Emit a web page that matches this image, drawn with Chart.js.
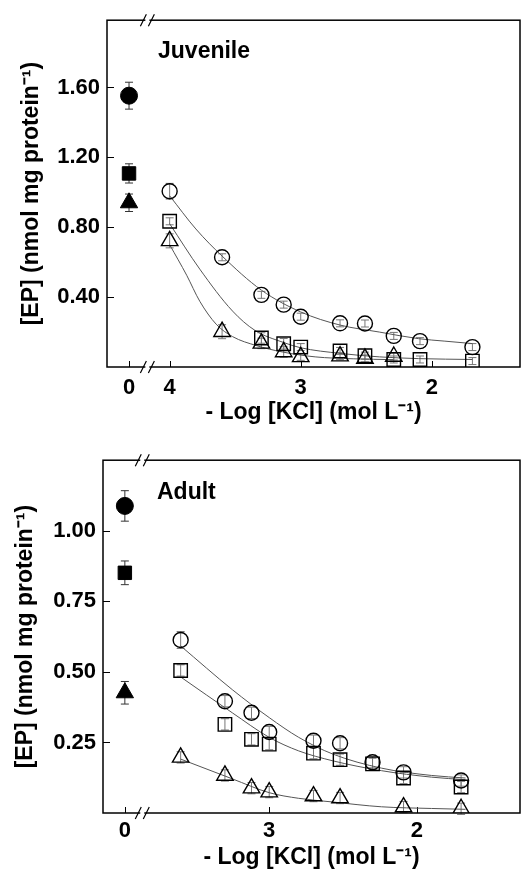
<!DOCTYPE html>
<html>
<head>
    <meta charset="utf-8" />
    <title>EP vs KCl</title>
    <style>
        body { margin: 0; background: #fff; }
        #topBox { position: absolute; left: 0; top: 0; width: 531px; height: 440px; }
        #bottomBox { position: absolute; left: 0; top: 440px; width: 531px; height: 434px; }
    </style>
</head>
<body>
    <div id="topBox"><canvas id="juvChart"></canvas></div>
    <div id="bottomBox"><canvas id="adultChart"></canvas></div>

    <script src="https://cdn.jsdelivr.net/npm/chart.js"></script>
    <script>
        // ---- Juvenile panel data ----
        const juvX = [4.0, 3.6, 3.3, 3.13, 3.0, 2.7, 2.51, 2.29, 2.09, 1.69];
        const juvCircle = [1.006, 0.628, 0.413, 0.357, 0.288, 0.250, 0.249, 0.178, 0.148, 0.114];
        const juvSquare = [0.834, null, 0.166, 0.133, 0.114, 0.092, 0.065, 0.043, 0.043, 0.034];
        const juvTriangle = [0.722, 0.202, 0.135, 0.086, 0.058, 0.062, 0.049, 0.060, null, null];
        const juvCircleErr = [0.045, 0.02, 0.02, 0.02, 0.02, 0.02, 0.02, 0.02, 0.02, 0.02];
        const juvSquareErr = [0.02, 0, 0.03, 0.03, 0.02, 0.02, 0.02, 0.02, 0.02, 0.02];
        const juvTriangleErr = [0.04, 0.04, 0.03, 0.03, 0.02, 0.02, 0.02, 0.02, 0, 0];
        // controls (KCl = 0)
        const juvControl = [1.553, 1.108, 0.94];
        const juvControlErr = [0.077, 0.055, 0.05];
        // fitted curves
        const juvCircleFitX = [4.0, 3.8, 3.6, 3.3, 3.0, 2.7, 2.4, 2.1, 1.9, 1.69];
        const juvCircleFit = [0.98, 0.79, 0.635, 0.44, 0.315, 0.24, 0.20, 0.162, 0.148, 0.134];
        const juvSquareFitX = [4.0, 3.77, 3.52, 3.35, 3.13, 3.0, 2.7, 2.4, 2.1, 1.69];
        const juvSquareFit = [0.82, 0.56, 0.32, 0.21, 0.14, 0.11, 0.078, 0.058, 0.048, 0.043];
        const juvTriangleFitX = [4.0, 3.87, 3.77, 3.645, 3.52, 3.34, 3.14, 2.89, 2.6, 2.29];
        const juvTriangleFit = [0.70, 0.525, 0.376, 0.245, 0.174, 0.123, 0.086, 0.058, 0.047, 0.042];
        const juvYTicks = [0.4, 0.8, 1.2, 1.6];
        const juvXTickPos = [4.31, 4, 3, 2];
        const juvXTickLabels = ['0', '4', '3', '2'];

        // ---- Adult panel data ----
        const adultX = [3.6, 3.3, 3.12, 3.0, 2.7, 2.52, 2.3, 2.09, 1.7];
        const adultCircle = [0.613, 0.396, 0.355, 0.287, 0.256, 0.247, 0.18, 0.144, 0.115];
        const adultSquare = [0.505, 0.314, 0.261, 0.244, 0.212, 0.189, 0.174, 0.124, 0.092];
        const adultTriangle = [0.197, 0.133, 0.088, 0.074, 0.060, 0.053, null, 0.021, 0.015];
        const adultCircleErr = [0.03, 0.02, 0.02, 0.02, 0.02, 0.02, 0.02, 0.02, 0.02];
        const adultSquareErr = [0.02, 0.02, 0.02, 0.02, 0.02, 0.02, 0.02, 0.02, 0.02];
        const adultTriangleErr = [0.02, 0.02, 0.02, 0.02, 0.02, 0.02, 0, 0.02, 0.02];
        const adultControl = [1.088, 0.851, 0.426];
        const adultControlErr = [0.054, 0.042, 0.04];
        const adultFitX = [3.6, 3.25, 3.0, 2.8, 2.57, 2.24, 1.9, 1.67];
        const adultCircleFit = [0.592, 0.437, 0.338, 0.268, 0.209, 0.159, 0.133, 0.124];
        const adultSquareFit = [0.482, 0.355, 0.268, 0.22, 0.185, 0.150, 0.127, 0.118];
        const adultTriangleFit = [0.191, 0.121, 0.072, 0.052, 0.039, 0.022, 0.016, 0.013];
        const adultYTicks = [0.25, 0.5, 0.75, 1.0];
        const adultXTickPos = [3.978, 3, 2];
        const adultXTickLabels = ['0', '3', '2'];

        const FONT = "'Liberation Sans', Arial, Helvetica, sans-serif";

        function pts(xs, ys) {
            return xs.map((x, i) => ({ x: x, y: ys[i] }));
        }

        function markerSet(xs, ys, errs, style, filled, radius) {
            return {
                data: pts(xs, ys),
                errors: errs,
                errorColor: filled ? '#333' : '#777',
                pointStyle: style,
                pointRadius: radius,
                pointHoverRadius: radius,
                borderColor: '#000',
                borderWidth: filled ? 1 : 1.4,
                backgroundColor: filled ? '#000' : 'rgba(0,0,0,0)',
                showLine: false
            };
        }

        function curveSet(xs, ys) {
            return {
                data: pts(xs, ys),
                showLine: true,
                pointRadius: 0,
                borderColor: '#555',
                borderWidth: 1,
                cubicInterpolationMode: 'monotone',
                fill: false
            };
        }

        // frame, inward ticks, axis breaks, error bars and panel label
        const decor = {
            id: 'decor',
            beforeDatasetsDraw(chart, args, o) {
                const ctx = chart.ctx, a = chart.chartArea;
                const xs = chart.scales.x, ys = chart.scales.y;
                ctx.save();
                chart.data.datasets.forEach(ds => {
                    if (!ds.errors) return;
                    ds.data.forEach((p, j) => {
                        const e = ds.errors[j];
                        if (p.y == null || !e) return;
                        const px = xs.getPixelForValue(p.x);
                        const y1 = ys.getPixelForValue(p.y + e);
                        const y2 = ys.getPixelForValue(p.y - e);
                        ctx.strokeStyle = ds.errorColor;
                        ctx.lineWidth = 1;
                        ctx.beginPath();
                        ctx.moveTo(px, y1); ctx.lineTo(px, y2);
                        ctx.moveTo(px - 4, y1); ctx.lineTo(px + 4, y1);
                        ctx.moveTo(px - 4, y2); ctx.lineTo(px + 4, y2);
                        ctx.stroke();
                    });
                });

                ctx.strokeStyle = '#000';
                ctx.lineWidth = 1.5;
                ctx.strokeRect(a.left, a.top, a.right - a.left, a.bottom - a.top);

                ctx.lineWidth = 1;
                ctx.beginPath();
                xs.ticks.forEach(t => {
                    const px = Math.round(xs.getPixelForValue(t.value)) + 0.5;
                    ctx.moveTo(px, a.bottom); ctx.lineTo(px, a.bottom - 6);
                });
                ys.ticks.forEach(t => {
                    const py = Math.round(ys.getPixelForValue(t.value)) + 0.5;
                    ctx.moveTo(a.left, py); ctx.lineTo(a.left + 7, py);
                });
                ctx.stroke();

                const bx = xs.getPixelForValue(o.breakAt);
                [a.top, a.bottom].forEach(y => {
                    ctx.fillStyle = '#fff';
                    ctx.fillRect(bx - 2, y - 2, 4, 4);
                    ctx.beginPath();
                    ctx.moveTo(bx - 7, y + 6); ctx.lineTo(bx - 1, y - 6);
                    ctx.moveTo(bx + 1, y + 6); ctx.lineTo(bx + 7, y - 6);
                    ctx.lineWidth = 1.2;
                    ctx.strokeStyle = '#000';
                    ctx.stroke();
                });

                ctx.fillStyle = '#000';
                ctx.font = 'bold 23px ' + FONT;
                ctx.textBaseline = 'middle';
                ctx.textAlign = 'left';
                ctx.fillText(o.label, o.labelX, o.labelY);
                ctx.restore();
            }
        };

        function makeChart(id, p) {
            const ctx = document.getElementById(id).getContext('2d');
            return new Chart(ctx, {
                type: 'scatter',
                data: {
                    datasets: [
                        markerSet([p.controlPos], [p.control[0]], [p.controlErr[0]], 'circle', true, 8.5),
                        markerSet([p.controlPos], [p.control[1]], [p.controlErr[1]], 'rect', true, 9.5),
                        markerSet([p.controlPos], [p.control[2]], [p.controlErr[2]], 'triangle', true, 10),
                        markerSet(p.x, p.circle, p.circleErr, 'circle', false, 7.5),
                        markerSet(p.x, p.square, p.squareErr, 'rect', false, 9.5),
                        markerSet(p.x, p.triangle, p.triangleErr, 'triangle', false, 9.5),
                        curveSet(p.circleFitX, p.circleFit),
                        curveSet(p.squareFitX, p.squareFit),
                        curveSet(p.triangleFitX, p.triangleFit)
                    ]
                },
                options: {
                    responsive: true,
                    maintainAspectRatio: false,
                    animation: false,
                    events: [],
                    layout: { padding: { top: p.padTop, right: 9, left: 0, bottom: 0 } },
                    plugins: {
                        legend: { display: false },
                        tooltip: { enabled: false },
                        decor: { breakAt: p.breakAt, label: p.label, labelX: p.labelX, labelY: p.labelY }
                    },
                    scales: {
                        x: {
                            type: 'linear',
                            reverse: true,
                            min: p.xMin,
                            max: p.xMax,
                            afterFit: s => { s.height = p.xAxisHeight; },
                            afterBuildTicks: s => { s.ticks = p.xTickPos.map(v => ({ value: v })); },
                            grid: { display: false, drawTicks: false },
                            border: { display: false },
                            ticks: {
                                padding: p.xTickPad,
                                color: '#000',
                                font: { family: FONT, size: 22, weight: 'bold' },
                                callback: v => p.xTickLabels[p.xTickPos.indexOf(v)]
                            },
                            title: {
                                display: true,
                                text: '- Log [KCl] (mol L⁻¹)',
                                color: '#000',
                                font: { family: FONT, size: 23, weight: 'bold' },
                                padding: { top: 0, bottom: p.xTitlePad }
                            }
                        },
                        y: {
                            min: 0,
                            max: p.yMax,
                            afterFit: s => { s.width = p.yAxisWidth; },
                            afterBuildTicks: s => { s.ticks = p.yTicks.map(v => ({ value: v })); },
                            grid: { display: false, drawTicks: false },
                            border: { display: false },
                            ticks: {
                                padding: 7,
                                color: '#000',
                                font: { family: FONT, size: 22, weight: 'bold' },
                                callback: v => v.toFixed(2)
                            },
                            title: {
                                display: true,
                                text: '[EP] (nmol mg protein⁻¹)',
                                color: '#000',
                                font: { family: FONT, size: 23, weight: 'bold' },
                                padding: { top: p.yTitlePad, bottom: 0 }
                            }
                        }
                    }
                },
                plugins: [decor]
            });
        }

        makeChart('juvChart', {
            x: juvX, circle: juvCircle, square: juvSquare, triangle: juvTriangle,
            circleErr: juvCircleErr, squareErr: juvSquareErr, triangleErr: juvTriangleErr,
            control: juvControl, controlErr: juvControlErr, controlPos: 4.31,
            circleFitX: juvCircleFitX, circleFit: juvCircleFit,
            squareFitX: juvSquareFitX, squareFit: juvSquareFit,
            triangleFitX: juvTriangleFitX, triangleFit: juvTriangleFit,
            yTicks: juvYTicks, xTickPos: juvXTickPos, xTickLabels: juvXTickLabels,
            xMin: 1.327, xMax: 4.478, yMax: 1.985, breakAt: 4.17,
            padTop: 13, xAxisHeight: 73, yAxisWidth: 107,
            xTickPad: 8, xTitlePad: 14, yTitlePad: 18,
            label: 'Juvenile', labelX: 158, labelY: 52
        });

        makeChart('adultChart', {
            x: adultX, circle: adultCircle, square: adultSquare, triangle: adultTriangle,
            circleErr: adultCircleErr, squareErr: adultSquareErr, triangleErr: adultTriangleErr,
            control: adultControl, controlErr: adultControlErr, controlPos: 3.978,
            circleFitX: adultFitX, circleFit: adultCircleFit,
            squareFitX: adultFitX, squareFit: adultSquareFit,
            triangleFitX: adultFitX, triangleFit: adultTriangleFit,
            yTicks: adultYTicks, xTickPos: adultXTickPos, xTickLabels: adultXTickLabels,
            xMin: 1.301, xMax: 4.126, yMax: 1.25, breakAt: 3.86,
            padTop: 19, xAxisHeight: 61, yAxisWidth: 103,
            xTickPad: 5, xTitlePad: 3, yTitlePad: 12,
            label: 'Adult', labelX: 157, labelY: 53
        });
    </script>
</body>
</html>
